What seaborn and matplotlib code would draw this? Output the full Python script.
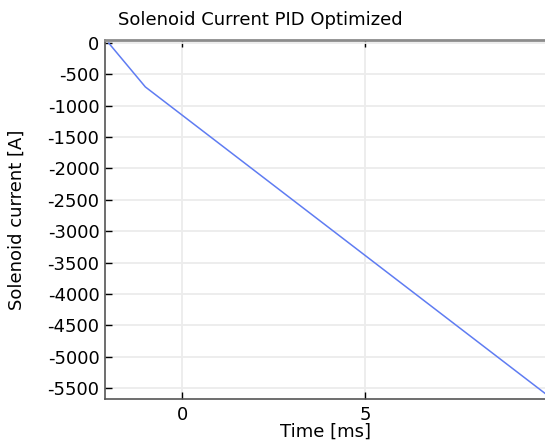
import pandas as pd
import seaborn as sns
import matplotlib.pyplot as plt

# solenoid current
time_ms = [-2.0, -1.0, 10.0]
current_a = [0, -700, -5630]
y_ticks = [0, -500, -1000, -1500, -2000, -2500, -3000, -3500, -4000, -4500, -5000, -5500]
x_ticks = [0, 5]

df = pd.DataFrame({"time": time_ms, "current": current_a})

sns.set_style("white")
plt.rcParams["font.family"] = ["DejaVu Sans"]
plt.rcParams["axes.unicode_minus"] = False
plt.rcParams["text.color"] = "black"
plt.rcParams["axes.labelcolor"] = "black"
plt.rcParams["xtick.color"] = "black"
plt.rcParams["ytick.color"] = "black"

fig = plt.figure(figsize=(5.45, 4.47), dpi=100)
ax = fig.add_axes([105 / 545, 1 - 399 / 447, 1 - 105 / 545, (399 - 40) / 447])

sns.lineplot(data=df, x="time", y="current", ax=ax, color="#5f7cf2", linewidth=1.1)

ax.set_xlim(-2.1, 9.9)
ax.set_ylim(-5675, 48)
ax.set_xticks(x_ticks)
ax.set_yticks(y_ticks)
ax.grid(True, color="#ececec", linewidth=1.3)
ax.set_axisbelow(True)

ax.tick_params(axis="both", direction="in", length=5, width=1, colors="black",
               labelsize=13, pad=4, top=True, bottom=True, left=True, right=False)
ax.tick_params(axis="x", pad=5)

for side in ["left", "bottom"]:
    ax.spines[side].set_color("#555555")
    ax.spines[side].set_linewidth(1.2)
ax.spines["top"].set_color("#8c8c8c")
ax.spines["top"].set_linewidth(2)
ax.spines["right"].set_visible(False)

ax.set_xlabel("Time [ms]", fontsize=13, labelpad=-1)
ax.set_ylabel("Solenoid current [A]", fontsize=13)
ax.yaxis.set_label_coords(-(105 - 26) / 440, 0.5)

fig.text(260 / 545, 1 - 20 / 447, "Solenoid Current PID Optimized",
         ha="center", va="center", fontsize=13)

plt.savefig("out.png", dpi=100)
